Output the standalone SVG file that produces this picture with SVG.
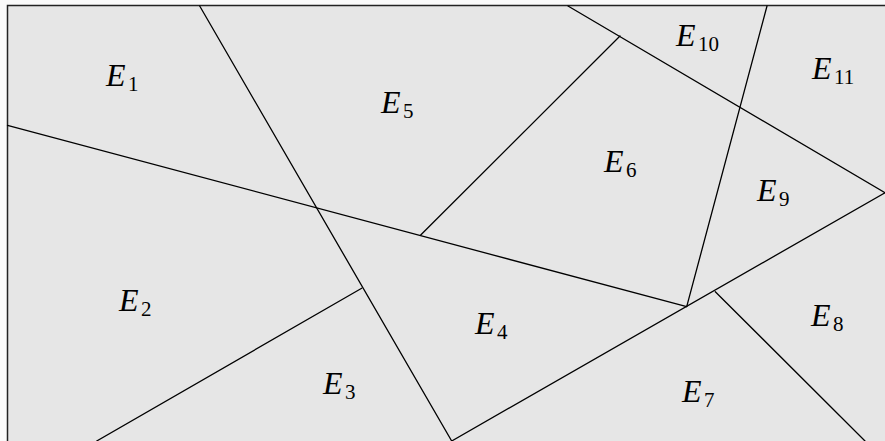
<svg xmlns="http://www.w3.org/2000/svg" width="885" height="441" viewBox="0 0 885 441">
<style>
.e{font-family:"Liberation Serif",serif;font-style:italic;font-size:32px;fill:#000}
.s{font-family:"Liberation Serif",serif;font-style:normal;font-size:21px;fill:#000}
.l{stroke:#000;stroke-width:1.3;fill:none;stroke-linecap:round}
</style>
<rect x="0" y="0" width="885" height="441" fill="#fafafa"/>
<rect id="frame" x="7.5" y="5.5" width="890" height="450" fill="#e6e6e6" stroke="#222" stroke-width="1.5"/>
<g id="connectors">
<line class="l" x1="7.5" y1="125.3" x2="686.7" y2="306.7"/>
<line class="l" x1="199.7" y1="6" x2="451.7" y2="441"/>
<line class="l" x1="568" y1="6" x2="885" y2="192.7"/>
<line class="l" x1="767" y1="6" x2="686.7" y2="306.7"/>
<line class="l" x1="620" y1="36" x2="420.7" y2="235"/>
<line class="l" x1="361.7" y1="288.3" x2="96.7" y2="441"/>
<line class="l" x1="451.7" y1="441" x2="885" y2="192.7"/>
<line class="l" x1="715.3" y1="291.7" x2="865" y2="441"/>
</g>
<g id="E1"><text class="e" x="106" y="86">E</text><text class="s" x="128" y="91">1</text></g>
<g id="E2"><text class="e" x="119" y="311">E</text><text class="s" x="141" y="316">2</text></g>
<g id="E3"><text class="e" x="323" y="394">E</text><text class="s" x="345" y="399">3</text></g>
<g id="E4"><text class="e" x="475" y="334">E</text><text class="s" x="497" y="339">4</text></g>
<g id="E5"><text class="e" x="381" y="113">E</text><text class="s" x="403" y="118">5</text></g>
<g id="E6"><text class="e" x="604" y="172">E</text><text class="s" x="626" y="177">6</text></g>
<g id="E7"><text class="e" x="682" y="402">E</text><text class="s" x="704" y="407">7</text></g>
<g id="E8"><text class="e" x="811" y="326">E</text><text class="s" x="833" y="331">8</text></g>
<g id="E9"><text class="e" x="757" y="201">E</text><text class="s" x="779" y="206">9</text></g>
<g id="E10"><text class="e" x="676" y="46">E</text><text class="s" x="698" y="51">10</text></g>
<g id="E11"><text class="e" x="812" y="79">E</text><text class="s" x="834" y="84">11</text></g>
</svg>
